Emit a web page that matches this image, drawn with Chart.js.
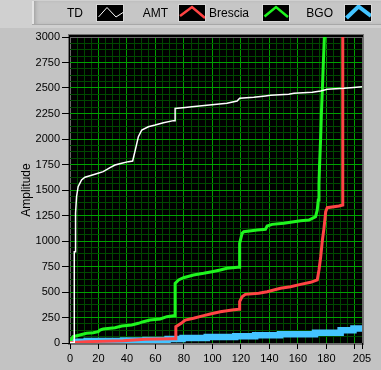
<!DOCTYPE html>
<html>
<head>
<meta charset="utf-8">
<script src="https://cdn.jsdelivr.net/npm/chart.js@4.4.0/dist/chart.umd.min.js"></script>
<style>
  html, body { margin: 0; padding: 0; }
  body {
    width: 381px; height: 370px; background: #c3c3c3;
    position: relative; overflow: hidden;
    font-family: "Liberation Sans", Arial, sans-serif;
  }
  #chart { position: absolute; left: 0; top: 0; }
  #topstrip { position: absolute; left: 0; top: 0; width: 381px; height: 28px; background: #d0d0d0; }
  #legendBar {
    position: absolute; left: 32px; top: 1px; width: 349px; height: 23px;
    background: #c6c6c6;
    box-shadow: inset 2px 0 0 #e4e4e4, inset 5px 0 4px -2px #9a9a9a, 0 1px 0 #a8a8a8;
  }
  .lbl { position: absolute; top: 6px; width: 60px; font-size: 12px; text-align: right; color: #000; }
  .icon { position: absolute; top: 4px; width: 28px; height: 18px; background: #000; box-sizing: border-box; border: 1px solid #d8d8d8; }
</style>
</head>
<body>
<div id="topstrip"></div>
<div id="legendBar"></div>
<canvas id="chart" width="381" height="370"></canvas>
<script>
// Series (x = sample index, y = amplitude)
const tdX = [0, 3, 3, 3.9, 3.9, 4.6, 5.7, 6.9, 8.1, 10.5, 14, 18.6, 23.3, 28.1, 31.6, 36.3, 41, 44,
             45, 46.4, 48, 50.4, 55, 59.8, 65.6, 72.6, 73.8, 73.8, 80.9, 85.6, 92.6, 103.2, 110.2,
             117.3, 119.1, 129, 137.2, 140.7, 153.6, 157.2, 170.1, 176, 180.6, 192.4, 197.1, 205];
const tdY = [5, 5, 895, 895, 1275, 1434, 1532, 1565, 1598, 1625, 1640, 1660, 1680, 1720, 1745, 1762, 1778, 1784,
             1843, 1925, 2023, 2088, 2120, 2137, 2160, 2180, 2180, 2300, 2310, 2317, 2327, 2340, 2350,
             2373, 2399, 2409, 2422, 2428, 2438, 2448, 2458, 2471, 2488, 2497, 2503, 2513];

const amtX = [0, 2.2, 11.6, 37.4, 52.7, 72.6, 73.8, 74.3, 76.2, 78.6, 80.9, 86.7, 93.8, 98.5, 105.5,
              113.8, 118.4, 119.1, 119.1, 120.8, 123.1, 132.5, 138.4, 147.8, 154.8, 161.9, 168.9,
              173.6, 174.8, 176, 177.2, 178.3, 179.5, 180.6, 188.8, 191.5, 191.5];
const amtY = [3, 5, 13, 23, 36, 42, 42, 160, 176, 199, 225, 242, 268, 284, 307,
              324, 330, 330, 405, 454, 477, 487, 503, 536, 552, 575, 595,
              618, 716, 846, 1010, 1124, 1287, 1327, 1343, 1353, 3200];

const bresciaX = [0, 2.2, 6.9, 11.6, 16.3, 19.8, 21, 23.3, 31.6, 36.3, 43.3, 48, 51.5, 56.2, 63.3,
                  68, 72.6, 73.8, 73.8, 76.2, 79.7, 86.7, 93.8, 99.7, 105.5, 110.2, 117.7, 119.1,
                  119.1, 120.8, 122, 131.4, 137.2, 138.4, 141.9, 150.1, 157.2, 161.9, 167.7, 170.1,
                  172.4, 173.6, 174.3, 174.8, 175.2, 176, 176.5, 177.2, 177.9, 178.6, 179];
const bresciaY = [13, 62, 78, 95, 101, 111, 127, 137, 150, 167, 176, 193, 209, 225, 235,
                  258, 268, 268, 585, 618, 640, 667, 683, 699, 716, 732, 742, 742,
                  977, 1075, 1091, 1108, 1115, 1147, 1163, 1173, 1189, 1199, 1206, 1222,
                  1238, 1304, 1402, 1560, 1740, 2023, 2252, 2497, 2758, 3003, 3200];

const bgoX = [0, 11.7, 37.4, 53, 68.5, 79, 96, 116, 130, 147.5, 172, 190, 199, 205];
const bgoY = [13, 20, 24, 29, 39, 50, 60, 66, 75, 85, 100, 125, 142, 142];

const seriesNames = ['TD', 'AMT', 'Brescia', 'BGO'];
const seriesColors = ['#ffffff', '#ff4444', '#1ff51f', '#44c4ff'];

const xTickLabels = [0, 20, 40, 60, 80, 100, 120, 140, 160, 180, 205];
const yTickLabels = [0, 250, 500, 750, 1000, 1250, 1500, 1750, 2000, 2250, 2500, 2750, 3000];

const X_MAX = 205, Y_MAX = 3000;
const MAJOR = '#00a000', MINOR = '#004800', EDGE = '#6a6a6a';
const FONT = { family: '"Liberation Sans", Arial, sans-serif', size: 11 };

// legend: text then a little black swatch, like the LabVIEW plot legend
const legendLayout = [
  { textRight: 83, box: 96, pts: '1.5,12 10,2.5 19,12 26,7.5', w: 1 },
  { textRight: 168, box: 178, pts: '1,11 13,2 26,13', w: 2.5 },
  { textRight: 249, box: 262, pts: '1.5,11.5 13,2 25,12', w: 2.5 },
  { textRight: 333, box: 344, pts: '1.5,13 13.5,1.5 26,11', w: 4 }
];
seriesNames.forEach((name, i) => {
  const L = legendLayout[i];
  const lbl = document.createElement('div');
  lbl.className = 'lbl';
  lbl.style.left = (L.textRight - 60) + 'px';
  lbl.textContent = name;
  document.body.appendChild(lbl);
  const icon = document.createElement('div');
  icon.className = 'icon';
  icon.style.left = L.box + 'px';
  icon.innerHTML = '<svg width="26" height="16"><polyline points="' + L.pts +
    '" fill="none" stroke="' + seriesColors[i] + '" stroke-width="' + L.w + '"/></svg>';
  document.body.appendChild(icon);
});

function toPoints(xs, ys) {
  return xs.map((x, i) => ({ x: x, y: ys[i] }));
}

// black plot area with a thin grey frame
const plotBackground = {
  id: 'plotBackground',
  beforeDraw(chart) {
    const { ctx, chartArea: a } = chart;
    ctx.save();
    ctx.fillStyle = '#707070';
    ctx.fillRect(a.left - 2, a.top - 3, a.right - a.left + 4, a.bottom - a.top + 5);
    ctx.fillStyle = '#000';
    ctx.fillRect(a.left - 1, a.top - 2, a.right - a.left + 2, a.bottom - a.top + 3);
    ctx.restore();
  }
};

const xSteps = [];
for (let v = 0; v <= X_MAX; v += 5) xSteps.push(v);
const ySteps = [];
for (let v = 0; v <= Y_MAX; v += 62.5) ySteps.push(v);

const widths = [1.5, 3, 3, 6.5];
const datasets = [
  toPoints(tdX, tdY), toPoints(amtX, amtY), toPoints(bresciaX, bresciaY), toPoints(bgoX, bgoY)
].map((pts, i) => ({
  label: seriesNames[i],
  data: pts,
  borderColor: seriesColors[i],
  backgroundColor: seriesColors[i],
  borderWidth: widths[i],
  pointRadius: 0,
  tension: 0,
  stepped: i === 3,
  clip: 0,
  fill: false
}));

const ctx = document.getElementById('chart').getContext('2d');
const chart = new Chart(ctx, {
  type: 'line',
  data: { datasets: datasets },
  options: {
    responsive: false,
    animation: false,
    devicePixelRatio: 1,
    layout: { padding: { left: 0, right: 19, top: 37, bottom: 0 } },
    plugins: {
      legend: { display: false },
      tooltip: { enabled: false }
    },
    scales: {
      x: {
        type: 'linear',
        min: 0,
        max: X_MAX,
        afterBuildTicks: s => { s.ticks = xSteps.map(v => ({ value: v })); },
        afterFit: s => { s.height = 27; },
        border: { display: false },
        grid: {
          color: c => {
            const v = c.tick ? c.tick.value : -1;
            if (v === 0 || v === X_MAX) return EDGE;
            return v % 20 === 0 ? MAJOR : MINOR;
          },
          tickColor: c => {
            const v = c.tick ? c.tick.value : -1;
            return (v % 20 === 0 || v === X_MAX) ? '#000' : 'rgba(0,0,0,0)';
          },
          tickLength: 6
        },
        ticks: {
          autoSkip: false,
          maxRotation: 0,
          minRotation: 0,
          padding: 3,
          color: '#000',
          font: FONT,
          callback: v => xTickLabels.includes(v) ? String(v) : ''
        }
      },
      y: {
        type: 'linear',
        min: 0,
        max: Y_MAX,
        afterBuildTicks: s => { s.ticks = ySteps.map(v => ({ value: v })); },
        afterFit: s => { s.width = 70; },
        border: { display: false },
        title: {
          display: true,
          text: 'Amplitude',
          color: '#000',
          font: { family: FONT.family, size: 12 },
          padding: { top: 19, bottom: 0 }
        },
        grid: {
          color: c => {
            const v = c.tick ? c.tick.value : -1;
            if (v === 0 || v === Y_MAX) return EDGE;
            return v % 250 === 0 ? MAJOR : MINOR;
          },
          tickColor: c => {
            const v = c.tick ? c.tick.value : -1;
            return v % 250 === 0 ? '#000' : 'rgba(0,0,0,0)';
          },
          tickLength: 8
        },
        ticks: {
          autoSkip: false,
          padding: 2,
          color: '#000',
          font: FONT,
          callback: v => yTickLabels.includes(v) ? String(v) : ''
        }
      }
    }
  },
  plugins: [plotBackground]
});
</script>
</body>
</html>
